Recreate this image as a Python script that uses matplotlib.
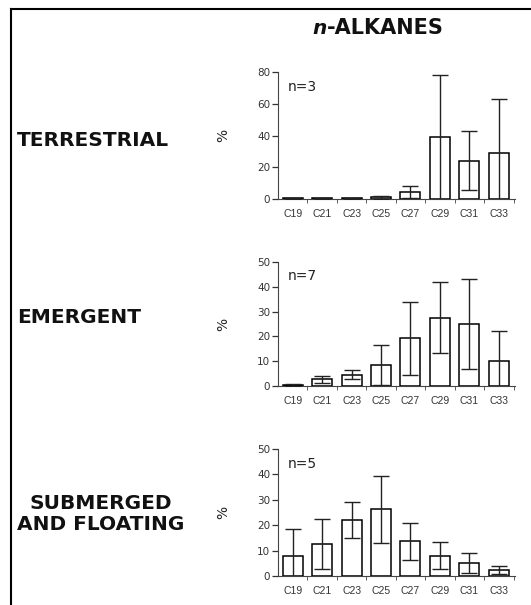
import matplotlib.pyplot as plt
from matplotlib.lines import Line2D
from matplotlib.ticker import FixedLocator

# chain lengths on the x axis
cats = ['C19', 'C21', 'C23', 'C25', 'C27', 'C29', 'C31', 'C33']

# mean % and error
terr_mean = [0.5, 0.6, 0.4, 1.0, 4.4, 38.8, 24.2, 28.9]
terr_err = [0.3, 0.3, 0.3, 0.8, 3.8, 39.5, 18.6, 34.0]

emer_mean = [0.5, 2.7, 4.6, 8.5, 19.2, 27.6, 25.0, 10.2]
emer_err = [0.3, 1.5, 1.7, 8.1, 14.7, 14.3, 18.1, 11.9]

subm_mean = [8.0, 12.6, 22.2, 26.3, 13.6, 8.0, 5.0, 2.4]
subm_err = [10.5, 10.0, 7.1, 13.2, 7.3, 5.4, 3.9, 1.7]

W, H = 531, 605
fig = plt.figure(figsize=(W / 100, H / 100), dpi=100)

# frame round the figure (only top and left edges show)
fig.add_artist(Line2D([11 / W, 11 / W], [0, 1 - 9 / H], color='black', lw=1.5))
fig.add_artist(Line2D([11 / W, 1], [1 - 9 / H, 1 - 9 / H], color='black', lw=1.5))

# title with italic n
ty = 1 - 34 / H
fig.text(327 / W, ty, 'n', fontsize=14.5, fontweight='bold', fontstyle='italic',
         ha='right', va='baseline', family='DejaVu Sans', color='#111111')
fig.text(327 / W, ty, '-ALKANES', fontsize=15, fontweight='bold',
         ha='left', va='baseline', family='DejaVu Sans', color='#111111')

# (row label, label y px, n text, means, errors, ymax, ytick step, axes top px, axes bottom px)
panels = [
    ('TERRESTRIAL', 140, 'n=3', terr_mean, terr_err, 80, 20, 72, 199),
    ('EMERGENT', 317, 'n=7', emer_mean, emer_err, 50, 10, 262, 386),
    ('SUBMERGED\nAND FLOATING', 514, 'n=5', subm_mean, subm_err, 50, 10, 449, 576),
]

x = list(range(len(cats)))
ax_left, ax_right = 278, 515

for label, ly, ntext, mean, err, ymax, step, top, bot in panels:
    ax = fig.add_axes([ax_left / W, 1 - bot / H, (ax_right - ax_left) / W, (bot - top) / H])
    ax.bar(x, mean, width=0.68, color='white', edgecolor='black', linewidth=1.1, zorder=2)
    ax.errorbar(x, mean, yerr=err, fmt='none', ecolor='#222222', elinewidth=1.0,
                capsize=5.5, capthick=1.0, zorder=3)
    ax.set_xlim(-0.5, 7.55)
    ax.set_ylim(0, ymax)
    ax.set_yticks(range(0, ymax + 1, step))
    ax.set_xticks(x)
    ax.set_xticklabels(cats)
    ax.xaxis.set_minor_locator(FixedLocator([i + 0.5 for i in x]))
    ax.tick_params(axis='x', which='major', length=0, pad=7.5, labelsize=7.5, colors='#333333')
    ax.tick_params(axis='x', which='minor', length=3, direction='out', color='#444444')
    ax.tick_params(axis='y', length=4, width=0.9, pad=1.5, labelsize=7.5, colors='#333333')
    for lab in ax.get_xticklabels():
        lab.set_family('Liberation Sans')
    ax.spines['top'].set_visible(False)
    ax.spines['right'].set_visible(False)
    ax.spines['left'].set_color('#444444')
    ax.spines['bottom'].set_color('#444444')
    ax.set_ylabel('%', fontsize=10, color='#222222')
    ax.yaxis.set_label_coords(-0.2, 0.5)
    ax.text(0.04, 0.885, ntext, transform=ax.transAxes, fontsize=10,
            ha='left', va='center', color='#222222')

    fig.text(17 / W, 1 - ly / H, label, fontsize=14.5, fontweight='bold',
             family='DejaVu Sans', ha='left', va='center', multialignment='center',
             color='#111111', linespacing=1.1)

fig.savefig('out.png', dpi=100)
